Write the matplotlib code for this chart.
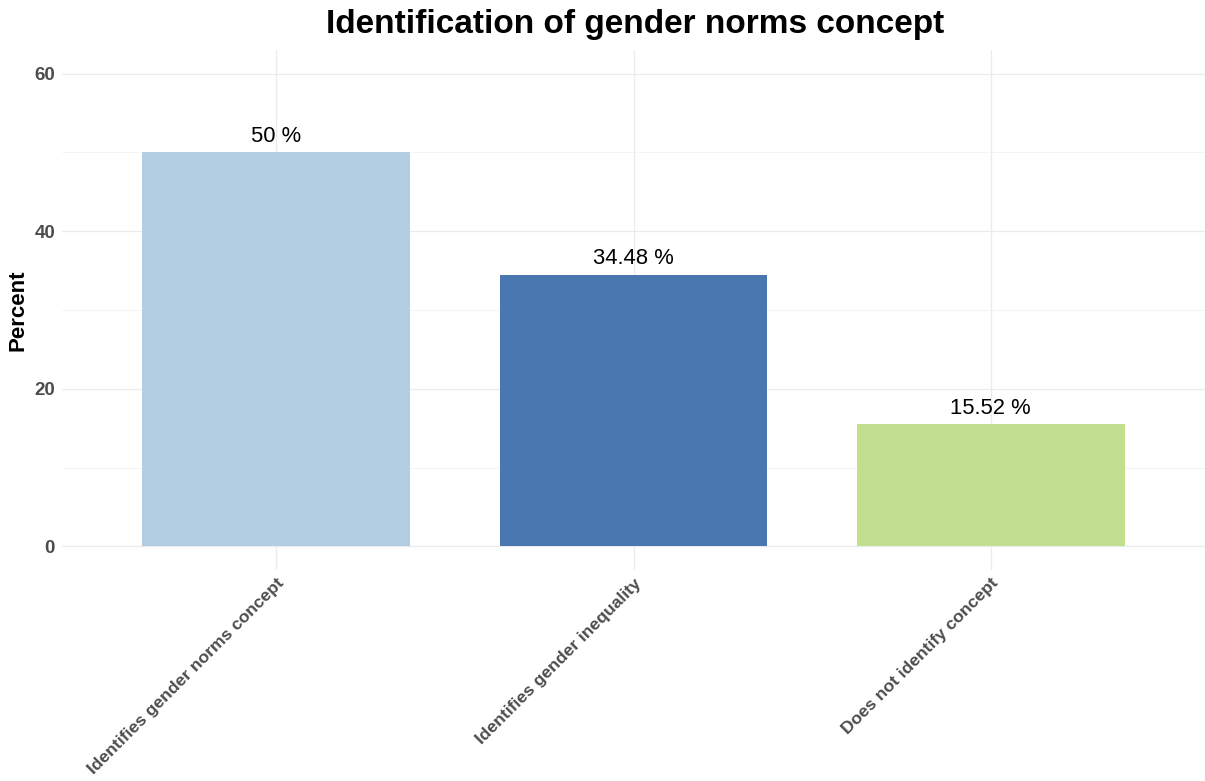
import numpy as np
import matplotlib.pyplot as plt
import matplotlib.transforms as mtransforms
from matplotlib.ticker import MultipleLocator

plt.rcParams['font.family'] = ['Liberation Sans', 'DejaVu Sans']

categories = ["Identifies gender norms concept", "Identifies gender inequality", "Does not identify concept"]
percent = [50, 34.48, 15.52]
labels = ["50 %", "34.48 %", "15.52 %"]
colors = ["#b3cde3", "#4a77b0", "#c1df8f"]

fig = plt.figure(figsize=(12.05, 7.81), dpi=100)
ax = fig.add_axes([0.0515, 0.27, 0.9485, 0.666])

x = np.arange(1, len(categories) + 1)
ax.bar(x, percent, width=0.75, color=colors, zorder=2)
for xi, v, lab in zip(x, percent, labels):
    ax.text(xi, v + 0.7, lab, ha='center', va='bottom', fontsize=15.8, color='black', zorder=3)

ax.set_xlim(0.4, 3.6)
ax.set_ylim(-3, 63)
ax.set_yticks([0, 20, 40, 60])
ax.yaxis.set_minor_locator(MultipleLocator(10))
ax.set_xticks(x)
ax.set_xticklabels(categories, rotation=45, ha='right', rotation_mode='anchor',
                   fontsize=12.6, fontweight='bold', color='#4d4d4d')
# nudge the rotated labels a bit to the right, like ggplot's hjust=1
offset = mtransforms.ScaledTranslation(6 / 72, 0, fig.dpi_scale_trans)
for t in ax.get_xticklabels():
    t.set_transform(t.get_transform() + offset)
for t in ax.get_yticklabels():
    t.set_fontsize(13.5)
    t.set_fontweight('bold')
    t.set_color('#4d4d4d')

# light grid like ggplot theme_minimal
ax.grid(which='major', color='#ebebeb', linewidth=0.9, zorder=0)
ax.grid(which='minor', axis='y', color='#f3f3f3', linewidth=0.6, zorder=0)
ax.tick_params(which='both', length=0)
ax.tick_params(axis='y', pad=5)
ax.tick_params(axis='x', pad=4)
for s in ax.spines.values():
    s.set_visible(False)

ax.set_ylabel("Percent", fontsize=16, fontweight='bold', labelpad=4)
fig.text(0.527, 0.968, "Identification of gender norms concept", ha='center', va='center',
         fontsize=24, fontweight='bold')

fig.savefig("out.png", dpi=100)
